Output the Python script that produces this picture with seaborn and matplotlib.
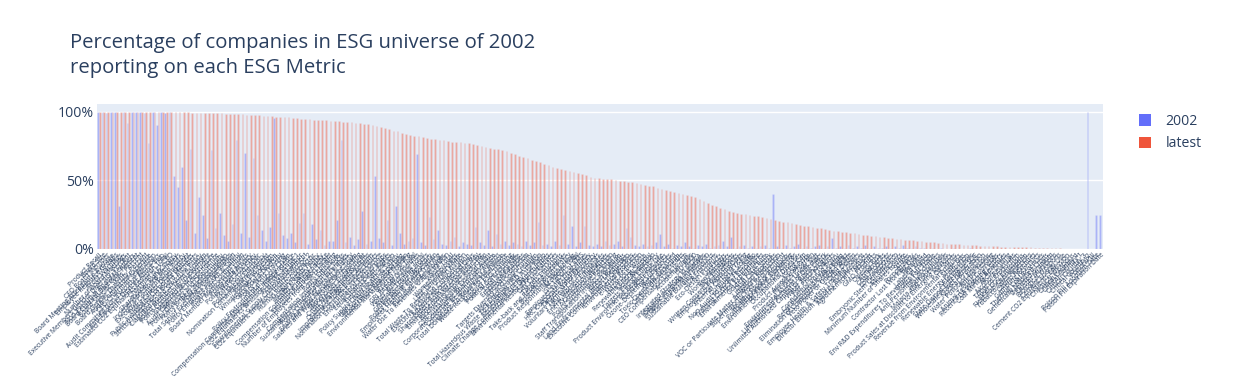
import matplotlib
matplotlib.use("Agg")
import matplotlib.pyplot as plt
import seaborn as sns
import pandas as pd
from matplotlib.patches import Patch

metrics = [
    "Product Recall", "Board Size", "CEO Board Member", "Board Meeting Attendance Average",
    "Employee Resource Groups", "Profit Warnings", "Number of Board Meetings",
    "Executive Members Gender Diversity, Percent", "Non-Executive Board Members",
    "Board Cultural Diversity, Percent", "Board Specific Skills, Percent",
    "Board Gender Diversity, Percent", "Audit Committee Expertise", "CEO-Chairman Separation",
    "Audit Committee Non-Executive Members", "Anti-Takeover Devices Above Two",
    "Estimated CO2 Equivalents Emission Total", "Chairman is ex-CEO", "Shareholder Rights Policy",
    "Independent Board Members", "Executive Compensation Policy", "Policy Career Development",
    "Public Availability Corporate Statutes", "Strictly Independent Board Members",
    "Classified Board Structure Policy", "Board Member Term Duration",
    "Policy Community Involvement", "Staggered Board Structure", "Audit Committee Independence",
    "Policy Diversity and Opportunity", "Policy Bribery and Corruption", "Policy Business Ethics",
    "Total Senior Executives Compensation", "Policy Employee Health & Safety",
    "Policy Fair Competition", "Board Member Membership Limits", "Policy Data Privacy",
    "Policy Water Efficiency", "Policy Forced Labor", "Policy Energy Efficiency",
    "Nomination Committee Involvement", "Policy Eco-Design", "Whistleblower Protection",
    "Policy Board Diversity", "Policy Skills Training", "Policy Environmental Supply Chain",
    "Compensation Committee Management Independence", "CO2 Equivalents Emission Direct, Scope 1",
    "Policy Child Labor", "Environmental Supply Chain Management",
    "CO2 Equivalent Emissions Indirect, Scope 2", "Human Rights Contractor", "Human Rights Policy",
    "Health & Safety Policy", "Compensation Committee Independence", "Emission Reduction Target",
    "Number of Employees from CSR reporting", "Policy Emissions", "Compensation Improvement Tools",
    "Sustainability Compensation Incentives", "Policy Customer Health & Safety",
    "Environmental Management Team", "Salaries and Wages from CSR reporting",
    "Stakeholder Engagement", "Crisis Management Systems", "Quality Management Systems",
    "Improvement Tools Business Ethics", "Nomination Committee Independence",
    "Environmental Partnerships", "Equal Shareholder Rights", "Employee Satisfaction",
    "Policy Supply Chain Health & Safety", "CSR Sustainability Reporting",
    "Trade Union Representation", "Environmental Management Training", "Energy Use Total",
    "GRI Report Guidelines", "Water Withdrawal Total", "Average Training Hours",
    "Global Compact Signatory", "Policy Freedom of Association",
    "Employees Health & Safety Training", "Turnover of Employees",
    "Water Use To Revenues USD in million", "Waste Total", "Women Employees",
    "Lost Time Injury Rate", "Total Waste To Revenues USD in million",
    "Executive Individual Compensation", "Advance Notice Period Days",
    "Shareholders Vote on Executive Pay", "Environmental Materials Sourcing",
    "Biodiversity Impact Reduction", "CSR Sustainability External Audit",
    "Corporate Governance Board Committee", "Corporate Responsibility Awards",
    "Total Donations To Revenues in million", "Waste Recycled To Total Waste",
    "Supplier ESG Training", "Political Contributions", "Total Injury Rate",
    "Employee Fatalities", "Internal Promotion", "Targets Diversity and Opportunity",
    "Net Employment Creation", "Total Hazardous Waste To Revenues USD in million",
    "Renewable Energy Use Ratio", "Climate Change Commercial Risks Opportunities",
    "Environmental Restoration Initiatives", "Day Care Services", "Targets Emissions",
    "Take-back and Recycling Initiatives", "Board Functions Policy",
    "Product Responsibility Monitoring", "Accidents Total", "ISO 14000 or EMS",
    "Employees With Disabilities", "HRC Corporate Equality Index", "Targets Water Efficiency",
    "Voluntary Turnover of Employees", "New Women Employees", "Energy Efficiency Initiatives",
    "Customer Satisfaction", "Policy Sustainable Packaging",
    "Staff Transportation Impact Reduction", "Green Buildings",
    "Land Environmental Impact Reduction", "Executive Compensation LT Objectives",
    "Environmental Products", "e-Waste Reduction", "Hazardous Waste",
    "Renewable Energy Supply", "Noise Reduction", "Targets Energy Efficiency",
    "Product Environmental Responsible Use", "Contractor Fatalities",
    "Ozone-Depleting Substances", "Water Recycled", "Toxic Chemicals Reduction",
    "Carbon Offsets/Credits", "CEO Compensation Link to TSR", "Accidental Spills", "ISO 9000",
    "Integrated Strategy in MD&A", "Organic Products Initiatives", "Product Impact Minimization",
    "Sustainable Building Products", "SOx Emissions", "Eco-Design Products", "Lost Days",
    "Women Managers", "NOx Emissions", "Written Consent Requirements",
    "Employee Lost Working Days", "Internal Carbon Pricing", "Cumulative Voting",
    "Non-Audit to Audit Fees Ratio", "Training Costs Per Employee", "Environmental Expenditures",
    "Golden Parachute", "Dual Class Stock", "Litigation Expenses",
    "VOC or Particulate Matter Emissions Reduction", "Supermajority Vote Requirement",
    "Healthy Food or Products", "Policy Responsible Marketing", "Environmental R&D Expenditures",
    "Occupational Diseases", "Voting Cap", "Product Access Low Price", "HIV-AIDS Program",
    "Environmental Assets Under Mgt", "Limitations on Removal of Directors",
    "Unlimited Authorized Capital or Blank Check", "Water Technologies", "Fair Price Products",
    "Confidential Voting Policy", "Retail Responsible Marketing",
    "Elimination of Cumulative Voting Rights", "Veto Power or Golden Share", "Drug Delays",
    "Employee Health & Safety Training Hours", "Director Election Majority Requirement",
    "Agrochemical Products", "Nuclear", "GMO Products", "Obesity Risk", "Armaments",
    "Coal Producer", "Contraceptives", "Embryonic Stem Cell Research", "Abortifacients",
    "Minimum Number of Shares to Vote", "Strikes", "Pornography",
    "Contractor Lost Working Days", "Firearms", "Labeled Wood",
    "Env R&D Expenditures To Revenues in million", "Policy Fair Trade",
    "Anti-Personnel Landmines", "Hybrid Vehicles", "Malaria and Tuberculosis",
    "Product Sales at Discount to Emerging Markets", "Oil Sands",
    "Revenue from Environmental Products", "Shale Gas", "Renewable Energy Production",
    "Flaring Gases", "State Owned Enterprise SOE", "Wholesale Power Generation",
    "Nuclear Production", "Water Pollutant Emissions", "Animal Testing",
    "Animal Testing Cosmetics", "Recent FDA Warning Letters", "Coal Mining Revenues",
    "Arctic Drilling", "Alcohol Revenues", "Tobacco Production", "Fleet CO2 Emissions",
    "Fleet Fuel Consumption", "Tobacco Sales Revenues", "Casino Revenues", "Gambling Revenues",
    "Thermal Coal Revenues", "Genetically Modified Crops", "Depleted Uranium",
    "Cluster Munitions", "Biological Weapons", "Cement Energy Use",
    "Cement CO2 Equivalents Emission", "Chemical Weapons", "Critical Country 4",
    "Critical Country 1", "Critical Country 3", "Critical Country 2", "Poison Pill",
    "Poison Pill Adoption Date", "Poison Pill Expiration Date",
]

# percent of companies reporting, latest year
latest = [
    100, 100, 100, 100, 100, 100, 100, 100, 100, 100,
    100, 100, 100, 100, 99.9, 99.9, 99.8, 99.8, 99.7, 99.6,
    99.5, 99.4, 99.3, 99.2, 99.1, 99.0, 98.9, 98.8, 98.7, 98.6,
    98.5, 98.4, 98.2, 98.0, 97.9, 97.8, 97.6, 97.4, 97.2, 97.0,
    96.8, 96.6, 96.4, 96.2, 96.0, 95.7, 95.4, 95.1, 94.8, 94.5,
    94.3, 94.1, 93.9, 93.7, 93.5, 93.3, 93.1, 92.9, 92.7, 92.5,
    92.2, 91.9, 91.6, 91.3, 91.0, 90.2, 89.3, 88.5, 87.8, 87.0,
    86.2, 85.5, 84.6, 83.8, 83.0, 82.5, 82.0, 81.4, 80.8, 80.2,
    79.8, 79.4, 79.0, 78.6, 78.2, 77.9, 77.6, 77.3, 77.0, 76.6,
    76.0, 75.3, 74.5, 73.8, 73.0, 72.4, 71.8, 71.0, 70.0, 69.0,
    68.0, 67.0, 66.0, 65.0, 64.0, 63.0, 62.0, 61.0, 60.0, 59.0,
    58.0, 57.3, 56.6, 56.0, 55.4, 54.6, 53.6, 52.6, 52.0, 51.6,
    51.2, 50.9, 50.6, 50.2, 49.8, 49.4, 49.0, 48.5, 48.0, 47.4,
    46.8, 46.2, 45.5, 44.7, 43.9, 43.0, 42.2, 41.5, 40.8, 40.2,
    39.5, 38.6, 37.6, 36.5, 35.2, 33.8, 32.2, 31.0, 30.0, 29.0,
    27.8, 26.8, 26.0, 25.6, 25.2, 24.8, 24.3, 23.7, 23.1, 22.5,
    22.0, 21.4, 20.7, 20.0, 19.3, 18.6, 18.0, 17.4, 16.9, 16.4,
    15.9, 15.4, 15.0, 14.5, 14.0, 13.4, 12.9, 12.5, 12.1, 11.7,
    11.3, 10.9, 10.5, 10.1, 9.7, 9.3, 9.0, 8.6, 8.3, 7.9,
    7.5, 7.1, 6.8, 6.5, 6.2, 5.9, 5.6, 5.3, 5.0, 4.8,
    4.5, 4.2, 4.0, 3.8, 3.6, 3.4, 3.2, 3.0, 2.8, 2.6,
    2.4, 2.2, 2.1, 2.0, 1.9, 1.8, 1.7, 1.6, 1.5, 1.4,
    1.3, 1.2, 1.1, 1.0, 0.9, 0.8, 0.7, 0.6, 0.5, 0.4,
    0.3, 0.3, 0.2, 0.2, 0.1, 0.1, 0.1, 0.0, 0.0, 0.0,
]

# percent of companies reporting, 2002 universe
y2002 = [
    100, 100, 99, 100, 100, 31, 100, 92, 100, 100,
    100, 99, 77, 100, 90, 100, 99, 100, 53, 45,
    60, 21, 73, 12, 38, 25, 8, 72, 15, 26,
    10, 6, 18, 79, 12, 70, 9, 66, 25, 14,
    6, 16, 95, 26, 10, 8, 12, 5, 19, 26,
    4, 18, 7, 14, 3, 6, 6, 21, 79, 5,
    9, 3, 7, 28, 4, 6, 53, 8, 5, 21,
    3, 31, 12, 4, 6, 8, 69, 5, 3, 23,
    7, 14, 4, 3, 6, 9, 2, 5, 4, 3,
    16, 5, 3, 14, 2, 11, 4, 6, 3, 5,
    4, 2, 6, 3, 5, 20, 3, 4, 2, 6,
    3, 25, 4, 17, 2, 5, 17, 3, 2, 4,
    2, 6, 3, 4, 6, 2, 15, 9, 3, 2,
    4, 2, 3, 5, 11, 2, 4, 1, 3, 2,
    5, 2, 1, 3, 2, 4, 1, 2, 3, 6,
    2, 9, 1, 2, 3, 1, 2, 1, 2, 3,
    1, 40, 2, 1, 3, 1, 2, 4, 1, 2,
    1, 2, 3, 1, 2, 8, 1, 2, 1, 3,
    1, 2, 1, 3, 1, 2, 1, 1, 2, 1,
    2, 1, 3, 1, 1, 2, 1, 1, 0, 1,
    0, 1, 0, 0, 1, 0, 0, 0, 1, 0,
    0, 0, 0, 0, 0, 0, 0, 0, 0, 0,
    0, 0, 0, 0, 0, 0, 0, 0, 0, 0,
    0, 0, 0, 0, 0, 0, 100, 0, 25, 25,
]

series_names = ["2002", "latest"]
colors = {"2002": "#636EFA", "latest": "#EF553B"}
title = "Percentage of companies in ESG universe of 2002\nreporting on each ESG Metric"

N = len(metrics)
df = pd.DataFrame({
    "metric": metrics * 2,
    "series": ["2002"] * N + ["latest"] * N,
    "value": [v / 100 for v in y2002] + [v / 100 for v in latest],
})

sns.set_style("white")
plt.rcParams["font.family"] = ["Open Sans", "DejaVu Sans"]

W, H = 1238, 384
fig = plt.figure(figsize=(W / 100, H / 100), dpi=100)
ax = fig.add_axes([97 / W, 135 / H, 1006 / W, 145 / H])
ax.set_facecolor("#E5ECF6")

sns.barplot(data=df, x="metric", y="value", hue="series", order=metrics,
            hue_order=series_names, palette=colors, saturation=1, errorbar=None,
            width=0.8, edgecolor="#E5ECF6", linewidth=0.36, legend=False, ax=ax)
for p in ax.patches:
    p.set_alpha(0.45)

ax.set_xlim(-0.5, N - 0.5)
ax.set_ylim(0, 1.055)
ax.set_yticks([0, 0.5, 1.0])
ax.set_yticklabels(["0%", "50%", "100%"])
ax.yaxis.grid(True, color="white", linewidth=1)
ax.xaxis.grid(False)
ax.set_axisbelow(True)
for s in ax.spines.values():
    s.set_visible(False)
ax.set_xlabel("")
ax.set_ylabel("")
ax.tick_params(axis="y", length=0, labelsize=10.1, labelcolor="#2a3f5f", pad=2)
ax.set_xticks(range(N))
ax.set_xticklabels(metrics, rotation=45, ha="right", rotation_mode="anchor",
                   fontsize=4.8, color="#2a3f5f")
ax.tick_params(axis="x", length=0, pad=2)

fig.text(70 / W, 1 - 33 / H, title, fontsize=14.6, color="#2a3f5f",
         va="top", ha="left", linespacing=1.32)

handles = [Patch(facecolor=colors[s], edgecolor="none") for s in series_names]
fig.legend(handles, series_names, loc="upper left",
           bbox_to_anchor=(1133 / W, 1 - 108 / H), frameon=False, fontsize=10.1,
           handlelength=0.9, handleheight=0.9, handletextpad=1.0, labelspacing=0.55,
           labelcolor="#2a3f5f", borderaxespad=0)

fig.savefig("out.png", dpi=100)
